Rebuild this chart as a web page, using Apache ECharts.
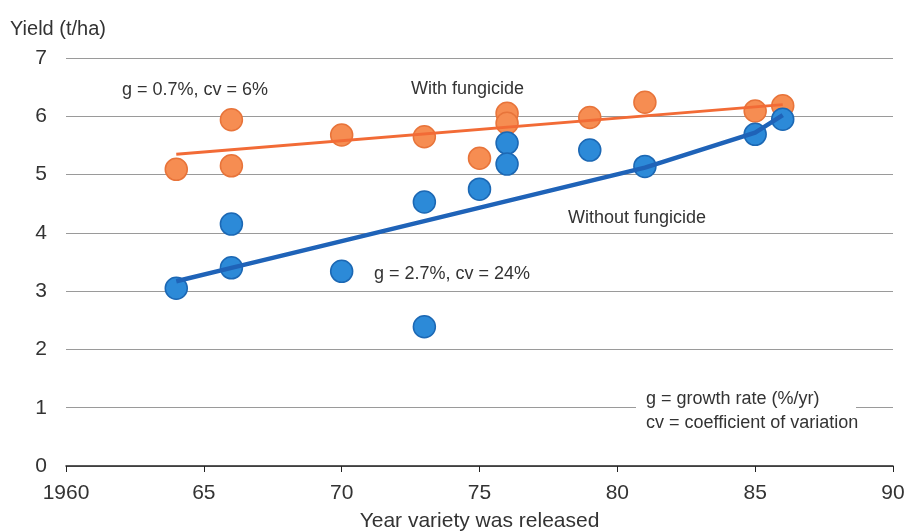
<!DOCTYPE html>
<html><head><meta charset="utf-8">
<script src="https://cdn.jsdelivr.net/npm/echarts@6/dist/echarts.min.js"></script>
<style>html,body{margin:0;padding:0;background:#fff}#c{width:916px;height:532px}</style>
</head><body><div id="c"></div>
<script>
const xTicks = [1960, 1965, 1970, 1975, 1980, 1985, 1990];
const xTickLabels = ['1960', '65', '70', '75', '80', '85', '90'];
const withFungicide = [[1964,5.09],[1966,5.94],[1966,5.15],[1970,5.68],[1973,5.65],[1975,5.28],[1976,6.05],[1976,5.88],[1979,5.98],[1981,6.24],[1985,6.09],[1986,6.18]];
const withoutFungicide = [[1964,3.05],[1966,3.4],[1966,4.15],[1970,3.34],[1973,4.53],[1973,2.39],[1975,4.75],[1976,5.54],[1976,5.18],[1979,5.42],[1981,5.14],[1985,5.69],[1986,5.95]];
const withTrend = [[1964,5.35],[1986,6.2]];
const withoutTrend = [[1964,3.17],[1966,3.4],[1981,5.12],[1985,5.72],[1986,6.02]];
const FONT = '"Liberation Sans Narrow", "Liberation Sans", Arial, sans-serif';

const chart = echarts.init(document.getElementById('c'));
const labelMap = {};
xTicks.forEach((v,i)=>labelMap[v]=xTickLabels[i]);
chart.setOption({
  animation:false,
  grid:{left:66,right:23,top:58,bottom:66,outerBoundsMode:'none',containLabel:false},
  xAxis:{type:'value',min:1960,max:1990,interval:5,
    name:'Year variety was released',nameLocation:'middle',nameGap:45,
    nameTextStyle:{fontFamily:FONT,fontSize:21,color:'#333'},
    axisLine:{show:true,lineStyle:{color:'#222',width:1.5}},
    axisTick:{show:true,length:6,lineStyle:{color:'#222'}},
    axisLabel:{margin:17,fontFamily:FONT,fontSize:21,color:'#333',formatter:v=>labelMap[v]??''},
    splitLine:{show:false}},
  yAxis:{type:'value',min:0,max:7,interval:1,
    axisLine:{show:false},axisTick:{show:false},
    axisLabel:{margin:19,fontFamily:FONT,fontSize:21,color:'#333'},
    splitLine:{lineStyle:{color:'#9a9a9a',width:1.2}}},
  graphic:[
    {type:'text',left:10,top:19,style:{text:'Yield (t/ha)',font:'20px '+FONT,fill:'#333'}},
    {type:'text',left:122,top:81,style:{text:'g = 0.7%, cv = 6%',font:'18px '+FONT,fill:'#333'}},
    {type:'text',left:411,top:80,style:{text:'With fungicide',font:'18px '+FONT,fill:'#333'}},
    {type:'text',left:568,top:209,style:{text:'Without fungicide',font:'18px '+FONT,fill:'#333'}},
    {type:'text',left:374,top:265,style:{text:'g = 2.7%, cv = 24%',font:'18px '+FONT,fill:'#333'}},
    {type:'rect',shape:{x:636,y:403,width:220,height:10},style:{fill:'#fff'},z:50},
    {type:'text',left:646,top:390,z:60,style:{text:'g = growth rate (%/yr)',font:'18px '+FONT,fill:'#333'}},
    {type:'text',left:646,top:414,z:60,style:{text:'cv = coefficient of variation',font:'18px '+FONT,fill:'#333'}}
  ],
  series:[
    {type:'line',data:withTrend,symbol:'none',lineStyle:{color:'#F26B36',width:3},z:3},
    {type:'line',data:withoutTrend,symbol:'none',lineStyle:{color:'#1F63B8',width:4.5},z:3},
    {type:'scatter',data:withFungicide,symbolSize:22,itemStyle:{color:'#F68D52',borderColor:'#E8743A',borderWidth:1.5,opacity:1},z:2},
    {type:'scatter',data:withoutFungicide,symbolSize:22,itemStyle:{color:'#2C8AD8',borderColor:'#1C68B4',borderWidth:1.5,opacity:1},z:2}
  ]
});
</script></body></html>
